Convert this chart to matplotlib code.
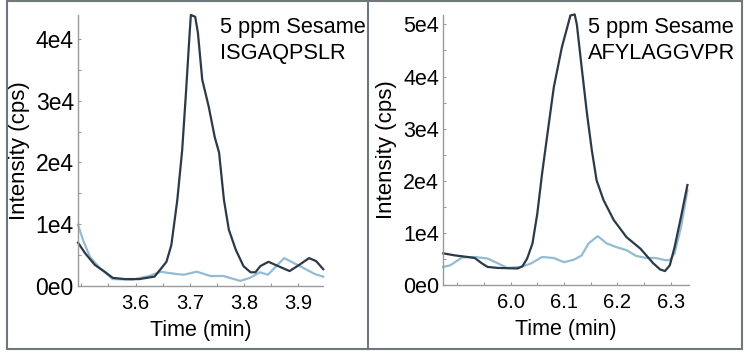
import matplotlib

matplotlib.use("Agg")
import matplotlib.pyplot as plt
from matplotlib.lines import Line2D
from matplotlib.ticker import FuncFormatter, MultipleLocator

plt.rcParams["font.family"] = ["Liberation Sans", "DejaVu Sans"]

DARK = "#2c3a48"
LIGHT = "#93bcd4"
SPINE = "#9a9a9a"
FRAME = "#6f777c"

# panel 1: ISGAQPSLR
isg_dark_t = [3.494, 3.507, 3.525, 3.543, 3.558, 3.580, 3.607, 3.635, 3.648, 3.657,
              3.666, 3.677, 3.686, 3.693, 3.699, 3.702, 3.710, 3.715, 3.723, 3.735,
              3.746, 3.754, 3.763, 3.772, 3.785, 3.799, 3.812, 3.821, 3.830, 3.845,
              3.863, 3.884, 3.900, 3.920, 3.933, 3.946]
isg_dark_i = [0.70, 0.53, 0.34, 0.23, 0.13, 0.11, 0.11, 0.15, 0.29, 0.39,
              0.66, 1.39, 2.20, 3.13, 3.99, 4.39, 4.36, 4.10, 3.34, 2.90,
              2.41, 2.16, 1.39, 0.91, 0.58, 0.32, 0.22, 0.22, 0.32, 0.39,
              0.32, 0.24, 0.33, 0.45, 0.40, 0.27]
isg_light_t = [3.494, 3.503, 3.516, 3.534, 3.558, 3.594, 3.625, 3.647, 3.660, 3.678,
               3.689, 3.713, 3.738, 3.762, 3.793, 3.811, 3.829, 3.844, 3.874, 3.894,
               3.931, 3.946]
isg_light_i = [0.99, 0.75, 0.47, 0.29, 0.11, 0.10, 0.16, 0.23, 0.21, 0.19,
               0.18, 0.23, 0.16, 0.16, 0.08, 0.13, 0.22, 0.18, 0.45, 0.36,
               0.19, 0.15]

# panel 2: AFYLAGGVPR
afy_dark_t = [5.874, 5.896, 5.920, 5.933, 5.946, 5.957, 5.976, 6.013, 6.022, 6.031,
              6.041, 6.050, 6.059, 6.069, 6.081, 6.096, 6.112, 6.120, 6.124, 6.133,
              6.143, 6.152, 6.161, 6.174, 6.193, 6.217, 6.243, 6.267, 6.280, 6.289,
              6.298, 6.307, 6.319, 6.331]
afy_dark_i = [0.61, 0.57, 0.54, 0.52, 0.42, 0.35, 0.33, 0.32, 0.36, 0.51,
              0.80, 1.37, 2.14, 2.90, 3.80, 4.56, 5.17, 5.19, 5.00, 4.18,
              3.29, 2.59, 2.01, 1.63, 1.25, 0.92, 0.70, 0.42, 0.30, 0.27,
              0.38, 0.73, 1.31, 1.92]
afy_light_t = [5.874, 5.887, 5.909, 5.933, 5.957, 5.976, 5.994, 6.020, 6.039, 6.059,
               6.081, 6.100, 6.119, 6.133, 6.146, 6.163, 6.180, 6.198, 6.217, 6.235,
               6.254, 6.272, 6.289, 6.298, 6.307, 6.319, 6.331]
afy_light_i = [0.35, 0.38, 0.53, 0.54, 0.51, 0.42, 0.33, 0.35, 0.42, 0.54,
               0.52, 0.44, 0.49, 0.57, 0.80, 0.94, 0.80, 0.73, 0.67, 0.56,
               0.52, 0.52, 0.48, 0.48, 0.61, 1.11, 1.82]

panels = [
    dict(rect=[0.104, 0.197, 0.327, 0.761], xlim=(3.494, 3.946), ylim=(0, 4.39),
         xticks=[3.6, 3.7, 3.8, 3.9], yticks=[0, 1, 2, 3, 4],
         dark=(isg_dark_t, isg_dark_i), light=(isg_light_t, isg_light_i),
         title="5 ppm Sesame\nISGAQPSLR", title_x=220, ysize=16.5),
    dict(rect=[0.591, 0.199, 0.327, 0.759], xlim=(5.874, 6.333), ylim=(0, 5.18),
         xticks=[6.0, 6.1, 6.2, 6.3], yticks=[0, 1, 2, 3, 4, 5],
         dark=(afy_dark_t, afy_dark_i), light=(afy_light_t, afy_light_i),
         title="5 ppm Sesame\nAFYLAGGVPR", title_x=588, ysize=15.5),
]

fig = plt.figure(figsize=(7.5, 3.56), dpi=100)

for p in panels:
    ax = fig.add_axes(p["rect"])
    ax.plot(*p["light"], color=LIGHT, lw=1.6, clip_on=False)
    ax.plot(*p["dark"], color=DARK, lw=1.6, clip_on=False)
    ax.set_xlim(*p["xlim"])
    ax.set_ylim(*p["ylim"])
    ax.set_xticks(p["xticks"])
    ax.set_yticks(p["yticks"])
    ax.xaxis.set_minor_locator(MultipleLocator(0.05))
    ax.yaxis.set_minor_locator(MultipleLocator(0.5))
    ax.yaxis.set_major_formatter(FuncFormatter(lambda v, pos: "0e0" if v == 0 else f"{int(v)}e4"))
    ax.xaxis.set_major_formatter(FuncFormatter(lambda v, pos: f"{v:.1f}"))
    for s in ("top", "right"):
        ax.spines[s].set_visible(False)
    for s in ("left", "bottom"):
        ax.spines[s].set_color(SPINE)
        ax.spines[s].set_linewidth(1.0)
    ax.tick_params(which="both", direction="in", color=SPINE, length=2, width=0.8)
    ax.tick_params(axis="x", labelsize=14.5, pad=6)
    ax.tick_params(axis="y", labelsize=p["ysize"], pad=3)
    ax.set_xlabel("Time (min)", fontsize=15.5, labelpad=5)
    ax.set_ylabel("Intensity (cps)", fontsize=16, labelpad=4)
    fig.text(p["title_x"] / 750, 1 - 17 / 356, p["title"], fontsize=15.7,
             ha="left", va="top", linespacing=1.3)

# panel frames
frame_lines = [
    ((7, 742), (1, 1)),
    ((7, 742), (349, 349)),
    ((7, 7), (1, 349)),
    ((368, 368), (1, 349)),
    ((742, 742), (1, 349)),
]
for xs, ys in frame_lines:
    fig.add_artist(Line2D([x / 750 for x in xs], [1 - y / 356 for y in ys],
                          color=FRAME, lw=1.5))

fig.savefig("out.png", dpi=100)
